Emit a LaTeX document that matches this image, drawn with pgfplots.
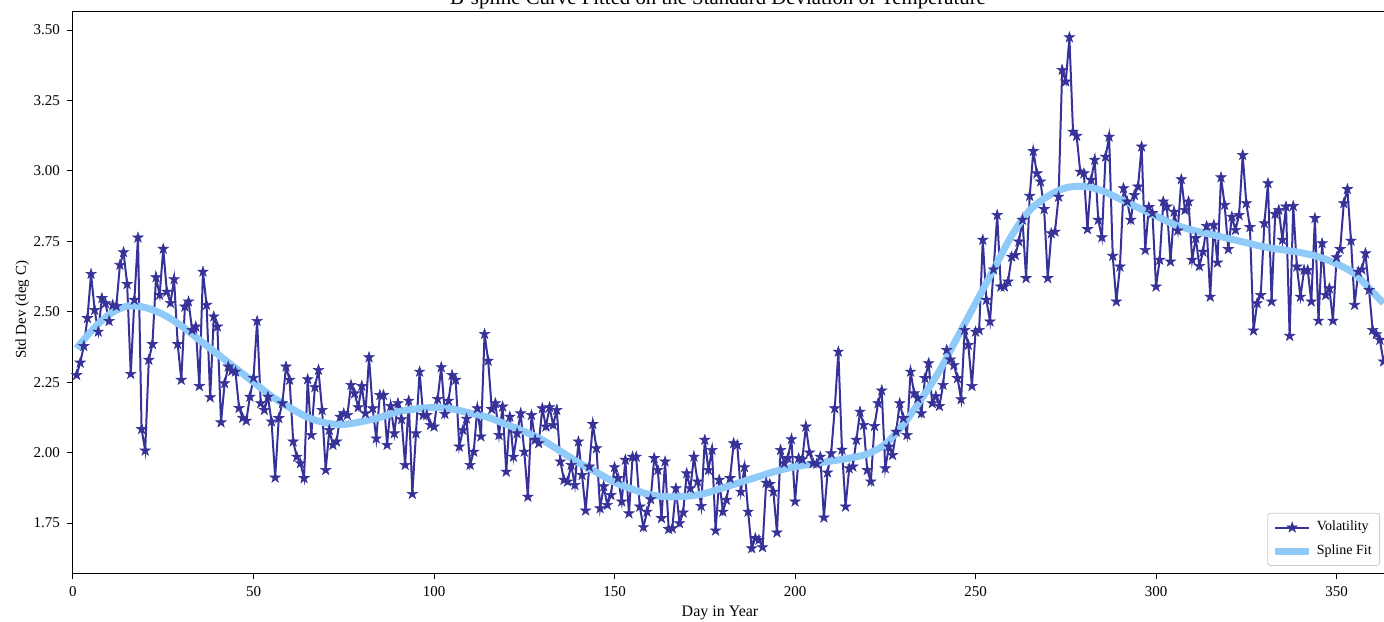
\documentclass[border=0pt]{standalone}
\usepackage{fontspec}
\setmainfont{Liberation Serif}
\usepackage{pgfplots}
\usepackage{pgfplotstable}
\pgfplotsset{compat=1.18}
\definecolor{vol}{RGB}{54,50,152}
\definecolor{spl}{RGB}{144,202,249}
\pgfdeclareplotmark{fstar}{%
  \pgfpathmoveto{\pgfpointpolar{90}{\pgfplotmarksize}}%
  \pgfpathlineto{\pgfpointpolar{126}{0.382*\pgfplotmarksize}}%
  \pgfpathlineto{\pgfpointpolar{162}{\pgfplotmarksize}}%
  \pgfpathlineto{\pgfpointpolar{198}{0.382*\pgfplotmarksize}}%
  \pgfpathlineto{\pgfpointpolar{234}{\pgfplotmarksize}}%
  \pgfpathlineto{\pgfpointpolar{270}{0.382*\pgfplotmarksize}}%
  \pgfpathlineto{\pgfpointpolar{306}{\pgfplotmarksize}}%
  \pgfpathlineto{\pgfpointpolar{342}{0.382*\pgfplotmarksize}}%
  \pgfpathlineto{\pgfpointpolar{18}{\pgfplotmarksize}}%
  \pgfpathlineto{\pgfpointpolar{54}{0.382*\pgfplotmarksize}}%
  \pgfpathclose
  \pgfusepathqfillstroke}
\pgfplotstableread{
x y
1 2.275
2 2.319
3 2.378
4 2.477
5 2.634
6 2.506
7 2.429
8 2.548
9 2.530
10 2.467
11 2.524
12 2.520
13 2.666
14 2.711
15 2.598
16 2.279
17 2.542
18 2.763
19 2.083
20 2.007
21 2.329
22 2.385
23 2.622
24 2.560
25 2.723
26 2.571
27 2.531
28 2.615
29 2.385
30 2.258
31 2.518
32 2.536
33 2.435
34 2.447
35 2.236
36 2.642
37 2.524
38 2.196
39 2.483
40 2.447
41 2.107
42 2.246
43 2.305
44 2.290
45 2.287
46 2.158
47 2.123
48 2.113
49 2.198
50 2.265
51 2.467
52 2.175
53 2.151
54 2.198
55 2.110
56 1.911
57 2.122
58 2.175
59 2.305
60 2.258
61 2.039
62 1.985
63 1.962
64 1.909
65 2.260
66 2.062
67 2.232
68 2.293
69 2.151
70 1.938
71 2.080
72 2.027
73 2.039
74 2.127
75 2.139
76 2.133
77 2.240
78 2.210
79 2.161
80 2.236
81 2.139
82 2.338
83 2.157
84 2.050
85 2.204
86 2.204
87 2.027
88 2.165
89 2.068
90 2.175
91 2.118
92 1.956
93 2.184
94 1.853
95 2.068
96 2.287
97 2.133
98 2.133
99 2.098
100 2.092
101 2.190
102 2.303
103 2.137
104 2.184
105 2.275
106 2.258
107 2.021
108 2.080
109 2.120
110 1.956
111 2.003
112 2.157
113 2.057
114 2.421
115 2.326
116 2.154
117 2.175
118 2.062
119 2.163
120 1.932
121 2.127
122 1.985
123 2.068
124 2.139
125 2.003
126 1.843
127 2.133
128 2.045
129 2.033
130 2.157
131 2.092
132 2.161
133 2.098
134 2.151
135 1.968
136 1.903
137 1.897
138 1.956
139 1.885
140 2.039
141 1.920
142 1.794
143 1.950
144 2.101
145 2.015
146 1.802
147 1.880
148 1.814
149 1.849
150 1.948
151 1.909
152 1.826
153 1.974
154 1.784
155 1.985
156 1.985
157 1.808
158 1.735
159 1.790
160 1.834
161 1.980
162 1.938
163 1.767
164 1.968
165 1.728
166 1.731
167 1.873
168 1.749
169 1.787
170 1.926
171 1.873
172 1.985
173 1.897
174 1.810
175 2.045
176 1.938
177 2.009
178 1.723
179 1.903
180 1.790
181 1.832
182 1.909
183 2.033
184 2.027
185 1.861
186 1.948
187 1.790
188 1.660
189 1.696
190 1.690
191 1.664
192 1.893
193 1.888
194 1.861
195 1.716
196 2.009
197 1.962
198 1.980
199 2.047
200 1.826
201 1.980
202 1.976
203 2.092
204 2.000
205 1.962
206 1.960
207 1.985
208 1.769
209 1.929
210 1.997
211 2.157
212 2.358
213 2.010
214 1.808
215 1.944
216 1.950
217 2.045
218 2.145
219 2.098
220 1.938
221 1.897
222 2.094
223 2.175
224 2.220
225 1.944
226 2.021
227 1.991
228 2.074
229 2.175
230 2.122
231 2.062
232 2.287
233 2.210
234 2.193
235 2.139
236 2.264
237 2.317
238 2.175
239 2.200
240 2.165
241 2.240
242 2.364
243 2.330
244 2.310
245 2.264
246 2.189
247 2.435
248 2.382
249 2.236
250 2.429
251 2.435
252 2.755
253 2.542
254 2.465
255 2.650
256 2.843
257 2.589
258 2.589
259 2.607
260 2.695
261 2.701
262 2.749
263 2.826
264 2.619
265 2.911
266 3.070
267 2.991
268 2.962
269 2.864
270 2.619
271 2.778
272 2.784
273 2.908
274 3.358
275 3.317
276 3.474
277 3.139
278 3.124
279 2.997
280 2.991
281 2.793
282 2.968
283 3.039
284 2.826
285 2.764
286 3.050
287 3.121
288 2.698
289 2.536
290 2.660
291 2.938
292 2.891
293 2.826
294 2.914
295 2.944
296 3.086
297 2.719
298 2.871
299 2.850
300 2.589
301 2.684
302 2.891
303 2.873
304 2.678
305 2.855
306 2.788
307 2.970
308 2.861
309 2.891
310 2.684
311 2.761
312 2.662
313 2.713
314 2.804
315 2.553
316 2.808
317 2.674
318 2.977
319 2.879
320 2.722
321 2.837
322 2.790
323 2.843
324 3.056
325 2.885
326 2.800
327 2.433
328 2.530
329 2.559
330 2.814
331 2.956
332 2.536
333 2.847
334 2.861
335 2.755
336 2.873
337 2.414
338 2.875
339 2.660
340 2.553
341 2.648
342 2.648
343 2.536
344 2.832
345 2.468
346 2.743
347 2.559
348 2.583
349 2.468
350 2.693
351 2.722
352 2.885
353 2.935
354 2.752
355 2.524
356 2.642
357 2.650
358 2.707
359 2.577
360 2.435
361 2.420
362 2.400
363 2.323
}\voldata
\pgfplotstableread{
x y
1 2.37
5 2.43
10 2.49
15 2.52
20 2.515
25 2.49
30 2.45
35 2.40
40 2.35
45 2.30
50 2.25
55 2.20
60 2.16
65 2.125
70 2.105
75 2.10
80 2.11
85 2.125
90 2.145
95 2.155
100 2.16
105 2.155
110 2.14
115 2.125
120 2.10
125 2.075
130 2.045
135 2.005
140 1.965
145 1.93
150 1.895
155 1.87
160 1.85
165 1.843
170 1.845
175 1.855
180 1.875
185 1.895
190 1.915
195 1.935
200 1.95
205 1.96
210 1.97
215 1.98
220 1.995
225 2.03
230 2.10
235 2.19
240 2.29
245 2.41
250 2.53
255 2.65
260 2.77
265 2.86
270 2.91
275 2.94
280 2.945
285 2.93
290 2.90
295 2.87
300 2.84
305 2.81
310 2.79
315 2.775
320 2.76
325 2.745
330 2.73
335 2.72
340 2.71
345 2.695
350 2.67
355 2.635
360 2.57
363 2.53
}\spldata
\begin{document}
\begin{tikzpicture}
\begin{axis}[
  scale only axis,
  width=658.85pt, height=280.5pt,
  xmin=0, xmax=365, ymin=1.5725, ymax=3.564,
  xtick={0,50,...,350},
  ytick={1.75,2.00,2.25,2.50,2.75,3.00,3.25,3.50},
  yticklabel style={/pgf/number format/fixed, /pgf/number format/fixed zerofill, /pgf/number format/precision=2},
  /pgf/number format/assume math mode=true,
  tick align=outside, tick pos=left, major tick length=3pt,
  tick style={black, line width=0.5pt},
  ticklabel style={font=\fontsize{7.5}{9}\selectfont},
  axis line style={line width=0.5pt},
  xlabel={Day in Year},
  ylabel={Std Dev (deg C)},
  xlabel style={at={(axis description cs:0.491,-0.0784)}, anchor=base, font=\fontsize{8}{9.5}\selectfont},
  ylabel style={at={(axis description cs:-0.0357,0.469)}, anchor=base, rotate=0, font=\fontsize{7.5}{9}\selectfont},
  legend style={at={(rel axis cs:0.9919,0.0125)}, anchor=south east, draw=black!20, rounded corners=1.5pt, font=\fontsize{7}{8.5}\selectfont, row sep=1.5pt, inner sep=2pt},
  legend cell align=left,
]
\addplot[vol, line width=1pt, mark=fstar, mark size=2.7pt, mark options={fill=vol, draw=vol, line width=0.3pt}] table[x=x, y=y] {\voldata};
\addlegendentry{Volatility}
\addplot[spl, line width=3.5pt, smooth, no markers] table[x=x, y=y] {\spldata};
\addlegendentry{Spline Fit}
\end{axis}
\node[anchor=base, font=\fontsize{10.4}{12}\selectfont, inner sep=0pt] at (322.5pt,284.4pt) {B-spline Curve Fitted on the Standard Deviation of Temperature};
\pgfresetboundingbox
\path (-36.5pt,-24pt) rectangle (655.5pt,286.5pt);
\end{tikzpicture}
\end{document}
